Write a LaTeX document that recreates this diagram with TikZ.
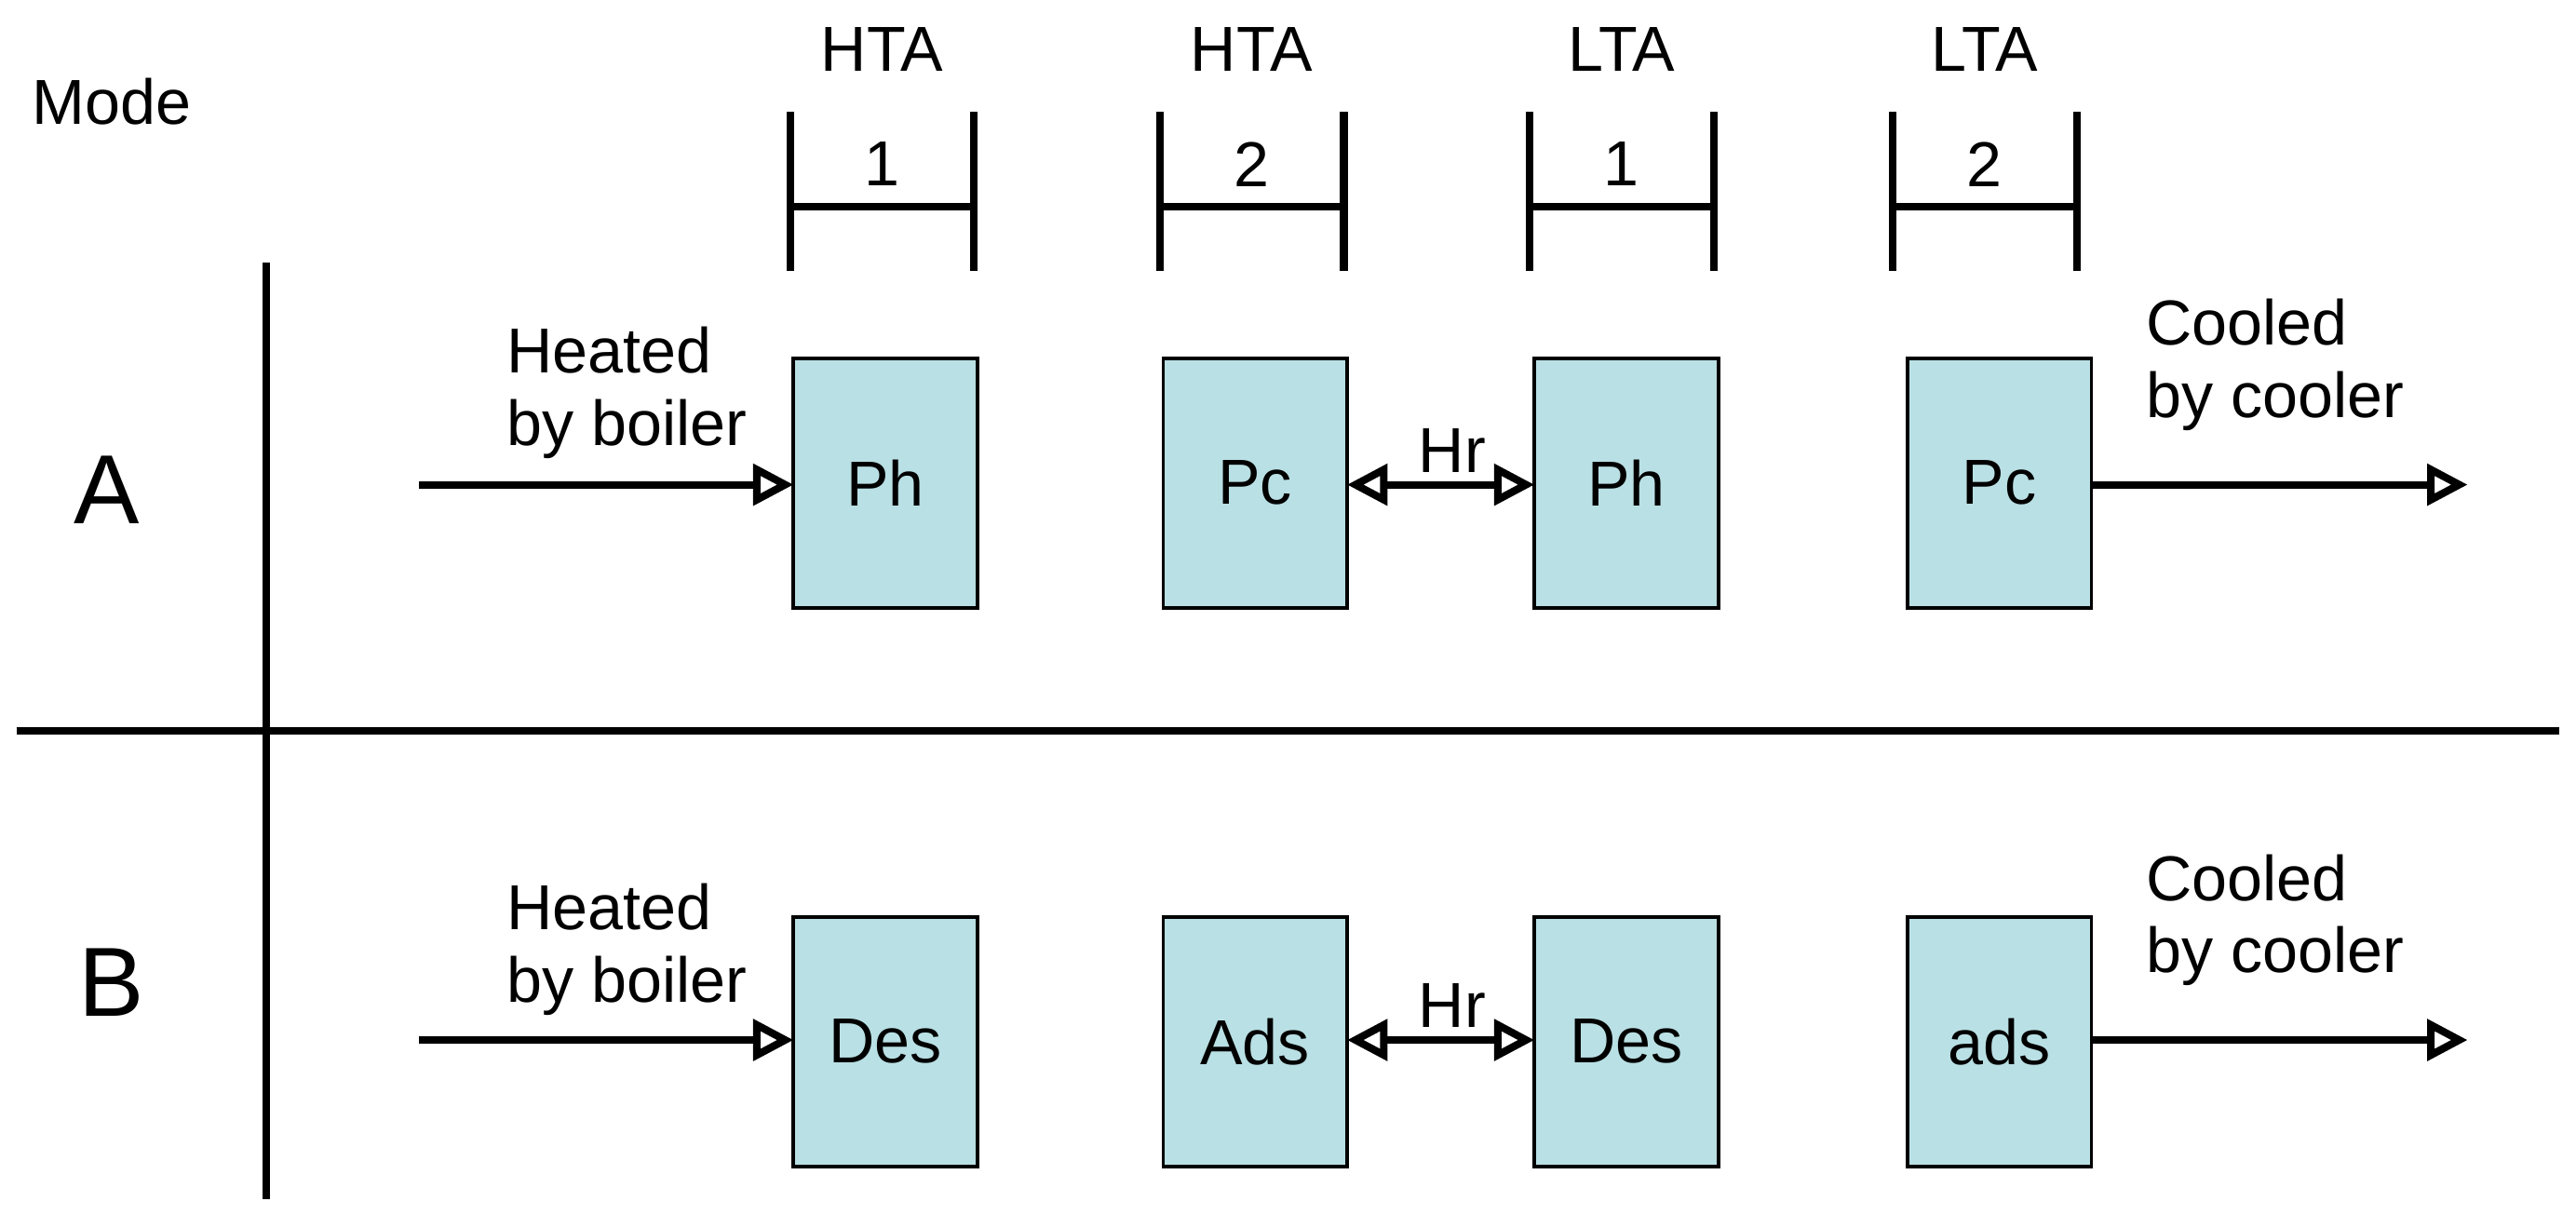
\documentclass[tikz,border=0pt]{standalone}
\usepackage{fontspec}
\setmainfont{Liberation Sans}
\usetikzlibrary{arrows.meta}
\definecolor{boxc}{HTML}{B9E0E4}
\begin{document}
\begin{tikzpicture}[x=0.01cm,y=-0.01cm,
  box/.style={draw=black,line width=0.6pt,fill=boxc,minimum width=112\pgflinewidth,inner sep=0},
  thk/.style={line width=1.3pt},
  arr/.style={thk,-{Triangle[open,length=7pt,width=7pt,fill=white]}},
  darr/.style={thk,{Triangle[open,length=7pt,width=7pt,fill=white]}-{Triangle[open,length=7pt,width=7pt,fill=white]}},
  lab/.style={font=\fontsize{11}{13}\selectfont},
  txt/.style={font=\fontsize{11}{12.5}\selectfont,align=left,anchor=west}]
\useasboundingbox (0,0) rectangle (1568,739);
\draw[thk] (162,160) -- (162,730);
\draw[thk] (10,445) -- (1558,445);
\node[lab] (mode) at (68,62) {Mode};
\node[font=\fontsize{17}{20}\selectfont] (A) at (65,298) {A};
\node[font=\fontsize{17}{20}\selectfont] (B) at (68,598) {B};
% brackets
\foreach \x/\t/\n [count=\i] in {481/HTA/1,706/HTA/2,931/LTA/1,1152/LTA/2}{
  \draw[thk] (\x,68) -- (\x,165);
  \draw[thk] (\x+112,68) -- (\x+112,165);
  \draw[thk] (\x,126) -- (\x+112,126);
  \node[lab] (t\i) at (\x+56,30) {\t};
  \node[lab] (n\i) at (\x+56,100) {\n};
}
% boxes
\foreach \nm/\x/\y/\t in {a1/539/294/Ph,a2/764/294/Pc,a3/990/294/Ph,a4/1217/294/Pc,
  b1/539/634/Des,b2/764/634/Ads,b3/990/634/Des,b4/1217/634/ads}{
  \draw[line width=0.6pt,fill=boxc] (\x-56,\y-76) rectangle (\x+56,\y+76);
  \node[lab] (\nm) at (\x,\y) {\t};
}
\coordinate (a1w) at (483,295); \coordinate (a2e) at (820,295);
\coordinate (a3w) at (934,295); \coordinate (a4e) at (1273,295);
\coordinate (b1w) at (483,633); \coordinate (b2e) at (820,633);
\coordinate (b3w) at (934,633); \coordinate (b4e) at (1273,633);
\coordinate (sa) at (255,295); \coordinate (ea) at (1502,295);
\coordinate (sb) at (255,633); \coordinate (eb) at (1502,633);
\draw[arr] (sa) -- (a1w);
\draw[darr] (a2e) -- (a3w);
\draw[arr] (a4e) -- (ea);
\draw[arr] (sb) -- (b1w);
\draw[darr] (b2e) -- (b3w);
\draw[arr] (b4e) -- (eb);
\node[lab] (hra) at (884,274) {Hr};
\node[lab] (hrb) at (884,612) {Hr};
\node[txt] (ha) at (296,239) {Heated\\by boiler};
\node[txt] (hb) at (296,578) {Heated\\by boiler};
\node[txt] (ca) at (1294,222) {Cooled\\by cooler};
\node[txt] (cb) at (1294,560) {Cooled\\by cooler};
\end{tikzpicture}
\end{document}
